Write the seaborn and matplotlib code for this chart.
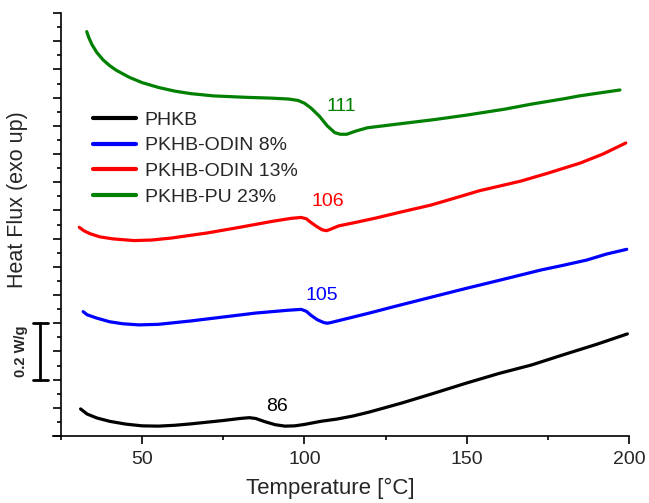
import numpy as np
import pandas as pd
import matplotlib
matplotlib.use("Agg")
import matplotlib.pyplot as plt
import matplotlib.transforms as mtransforms
from matplotlib.ticker import MultipleLocator
import seaborn as sns

# ---- data (Temperature in °C, heat flow in W/g, offset curves) ----
series_names = ["PHKB", "PKHB-ODIN 8%", "PKHB-ODIN 13%", "PKHB-PU 23%"]
series_colors = ["#000000", "#0000FF", "#FF0000", "#008000"]

phkb_T = [31.0, 33, 36, 40, 45, 50, 55, 60, 65, 70, 75, 80, 83, 85, 88, 91, 94, 97, 100,
          105, 110, 115, 120, 130, 140, 150, 160, 170, 180, 190, 199.5]
phkb_q = [0.096, 0.078, 0.064, 0.052, 0.042, 0.036, 0.035, 0.038, 0.043, 0.049, 0.055, 0.062,
          0.065, 0.062, 0.050, 0.040, 0.035, 0.036, 0.041, 0.052, 0.060, 0.071, 0.085, 0.117,
          0.152, 0.188, 0.222, 0.252, 0.289, 0.325, 0.362]

odin8_T = [31.8, 33, 36, 40, 44, 49, 55, 65, 75, 85, 95, 99, 100.6, 102, 104, 106, 107, 108,
           110.5, 120, 128, 140, 150, 160, 173, 180, 187, 193, 199.3]
odin8_q = [0.441, 0.430, 0.418, 0.405, 0.398, 0.394, 0.396, 0.408, 0.422, 0.436, 0.446, 0.449,
           0.442, 0.428, 0.412, 0.402, 0.400, 0.402, 0.409, 0.436, 0.460, 0.495, 0.524, 0.552,
           0.589, 0.606, 0.624, 0.645, 0.662]

odin13_T = [30.6, 32, 34, 37, 41, 47.5, 53, 59, 70, 80, 90, 96, 99, 100.6, 102, 104, 105.5,
            106.8, 108, 110.5, 116, 122, 130, 139, 147, 154, 160, 166.7, 175, 185, 192, 199]
odin13_q = [0.740, 0.728, 0.717, 0.706, 0.699, 0.693, 0.695, 0.702, 0.720, 0.740, 0.761, 0.772,
            0.775, 0.770, 0.757, 0.741, 0.731, 0.728, 0.733, 0.745, 0.758, 0.773, 0.795, 0.819,
            0.846, 0.870, 0.886, 0.904, 0.932, 0.968, 1.000, 1.039]

pu23_T = [32.9, 33.5, 34.5, 36, 38, 40, 42, 46, 50, 55, 60, 65, 72, 82, 90, 95, 98, 100, 102,
          104.6, 107, 109.3, 111, 113, 116, 119.4, 130, 140, 150, 161.7, 170, 180, 184.7, 190,
          197.2]
pu23_q = [1.434, 1.414, 1.388, 1.360, 1.333, 1.313, 1.297, 1.272, 1.253, 1.236, 1.223, 1.214,
          1.206, 1.201, 1.198, 1.195, 1.190, 1.180, 1.163, 1.134, 1.100, 1.076, 1.070, 1.070,
          1.082, 1.093, 1.108, 1.122, 1.138, 1.159, 1.177, 1.196, 1.206, 1.215, 1.227]

# peak annotations: (label, T, q)
annot_labels = ["86", "105", "106", "111"]
annot_T = [91.4, 105.2, 107.1, 111.4]
annot_q = [0.106, 0.500, 0.830, 1.170]

scale_bar_q = [0.2, 0.4]
scale_bar_text = "0.2 W/g"

x_ticks = [50, 100, 150, 200]

# ---- build long-form table ----
frames = []
for name, T, q in zip(series_names,
                      [phkb_T, odin8_T, odin13_T, pu23_T],
                      [phkb_q, odin8_q, odin13_q, pu23_q]):
    frames.append(pd.DataFrame({"T": T, "q": q, "series": name}))
df = pd.concat(frames, ignore_index=True)

sns.set_style("ticks")
plt.rcParams["font.family"] = ["Liberation Sans", "DejaVu Sans"]

fig = plt.figure(figsize=(6.49, 5.03), dpi=100)
ax = fig.add_axes([53 / 649, 1 - 436 / 503, (629 - 53) / 649, (436 - 13) / 503])

sns.lineplot(data=df, x="T", y="q", hue="series", hue_order=series_names,
             palette=dict(zip(series_names, series_colors)), sort=False,
             estimator=None, linewidth=2.3, ax=ax)

ax.set_xlim(22.5, 200)
ax.set_ylim(0, 1.5)
ax.spines["top"].set_visible(False)
ax.spines["right"].set_visible(False)
ax.spines["left"].set_position(("data", 25))
for s in ("left", "bottom"):
    ax.spines[s].set_linewidth(1.2)
    ax.spines[s].set_color("black")

ax.set_xticks(x_ticks)
ax.xaxis.set_minor_locator(MultipleLocator(25))
ax.yaxis.set_major_locator(MultipleLocator(0.1))
ax.yaxis.set_minor_locator(MultipleLocator(0.05))
ax.set_yticklabels([])
ax.tick_params(axis="both", which="major", direction="out", length=6, width=1.2,
               color="black", labelsize=14, pad=5)
ax.tick_params(axis="both", which="minor", direction="out", length=3, width=1.2, color="black")
ax.tick_params(axis="y", which="both", labelleft=False)

ax.set_xlabel("Temperature [°C]", fontsize=16)
ax.set_ylabel("Heat Flux (exo up)", fontsize=15.5)
ax.xaxis.set_label_coords(0.481, -0.100)
ax.yaxis.set_label_coords(-0.043, 0.558)

for lab, T, q, c in zip(annot_labels, annot_T, annot_q, series_colors):
    ax.text(T, q, lab, color=c, fontsize=14, ha="center", va="center")

# scale bar to the left of the axis
trans = mtransforms.blended_transform_factory(ax.transAxes, ax.transData)
xb = (40 - 53) / 576
xc0, xc1 = (33 - 53) / 576, (48 - 53) / 576
ax.plot([xb, xb], scale_bar_q, color="black", lw=2, transform=trans, clip_on=False)
for qv in scale_bar_q:
    ax.plot([xc0, xc1], [qv, qv], color="black", lw=2, transform=trans, clip_on=False)
ax.text((21 - 53) / 576, np.mean(scale_bar_q), scale_bar_text, rotation=90, fontsize=10.5,
        fontweight="bold", ha="center", va="center", transform=trans)

leg = ax.legend(loc="upper left", bbox_to_anchor=((93 - 53) / 576, (436 - 111) / 423),
                frameon=False, fontsize=14, handlelength=2.2, handletextpad=0.45,
                labelspacing=0.42, borderpad=0, borderaxespad=0)
for line in leg.get_lines():
    line.set_linewidth(3)

fig.savefig("out.png", dpi=100)
